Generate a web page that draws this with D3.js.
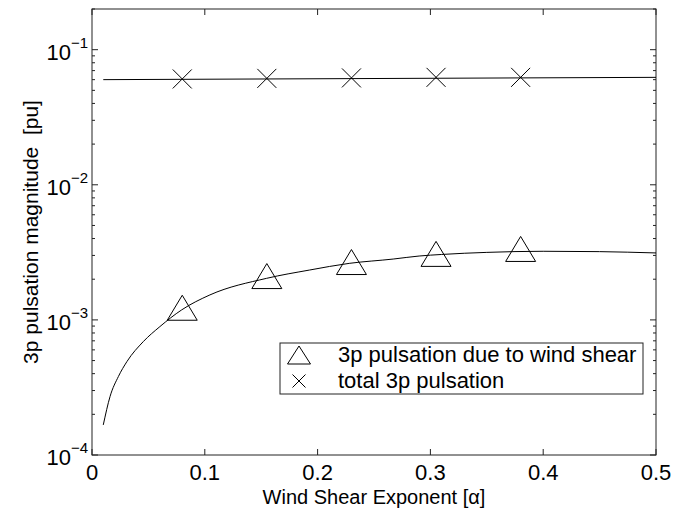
<!DOCTYPE html>
<html>
<head>
<meta charset="utf-8">
<script src="https://cdn.jsdelivr.net/npm/d3@7"></script>
<style>
  body { margin: 0; background: #fff; }
  svg { display: block; font-family: "Liberation Sans", Arial, Helvetica, sans-serif; }
</style>
</head>
<body>
<svg id="chart" width="673" height="514"></svg>
<script>
// alpha values where markers sit
let markerAlpha = [0.08, 0.155, 0.23, 0.305, 0.38];
let shearMarkers = [1.23e-3, 2.11e-3, 2.68e-3, 3.08e-3, 3.35e-3];
let totalMarkers = [0.0607, 0.0613, 0.0618, 0.0624, 0.0624];

// continuous curves
let shearAlpha = [0.01, 0.016, 0.0234, 0.031, 0.0455, 0.0602, 0.0795, 0.1045, 0.1547, 0.193, 0.228, 0.267, 0.29, 0.31, 0.35, 0.40, 0.45, 0.5];
let shearCurve = [1.67e-4, 2.71e-4, 3.81e-4, 4.92e-4, 6.91e-4, 8.92e-4, 1.186e-3, 1.53e-3, 2.03e-3, 2.34e-3, 2.62e-3, 2.82e-3, 2.97e-3, 3.05e-3, 3.16e-3, 3.22e-3, 3.2e-3, 3.13e-3];
let totalAlpha = [0.01, 0.5];
let totalCurve = [0.0600, 0.0624];

let xTicks = [0, 0.1, 0.2, 0.3, 0.4, 0.5];
let yTicks = [1e-4, 1e-3, 1e-2, 1e-1];
let legendLabels = ["3p pulsation due to wind shear", "total 3p pulsation"];

const svg = d3.select('#chart');
const margin = { left: 92, right: 17, top: 9, bottom: 59 };
const width = 673 - margin.left - margin.right;
const height = 514 - margin.top - margin.bottom;
const g = svg.append('g').attr('transform', `translate(${margin.left},${margin.top})`);

const x = d3.scaleLinear().domain([0, 0.5]).range([0, width]);
const y = d3.scaleLog().domain([1e-4, 0.2]).range([height, 0]);

const axisColor = '#222';

// minor log ticks
let minor = [];
for (let e = -4; e <= -1; e++) {
    for (let m = 1; m <= 9; m++) {
        let v = m * Math.pow(10, e);
        if (v >= 1e-4 && v <= 0.2) minor.push({ v: v, major: m === 1 });
    }
}

// y ticks left and right, inward
g.selectAll('.yt').data(minor).enter().append('line')
    .attr('x1', 0).attr('x2', d => d.major ? 6 : 3)
    .attr('y1', d => y(d.v)).attr('y2', d => y(d.v))
    .attr('stroke', axisColor);
g.selectAll('.yt2').data(minor).enter().append('line')
    .attr('x1', width).attr('x2', d => width - (d.major ? 6 : 3))
    .attr('y1', d => y(d.v)).attr('y2', d => y(d.v))
    .attr('stroke', axisColor);

// x ticks bottom and top, inward
g.selectAll('.xt').data(xTicks).enter().append('line')
    .attr('x1', d => x(d)).attr('x2', d => x(d))
    .attr('y1', height).attr('y2', height - 6)
    .attr('stroke', axisColor);
g.selectAll('.xt2').data(xTicks).enter().append('line')
    .attr('x1', d => x(d)).attr('x2', d => x(d))
    .attr('y1', 0).attr('y2', 6)
    .attr('stroke', axisColor);

// box
g.append('rect').attr('width', width).attr('height', height)
    .attr('fill', 'none').attr('stroke', axisColor).attr('stroke-width', 1);

// x tick labels
g.selectAll('.xl').data(xTicks).enter().append('text')
    .attr('x', d => x(d)).attr('y', height + 25)
    .attr('text-anchor', 'middle').attr('font-size', 22)
    .text(d => d3.format('')(d));

// y tick labels 10^n
let yl = g.selectAll('.yl').data(yTicks).enter().append('text')
    .attr('x', -4).attr('y', d => y(d) + 10)
    .attr('text-anchor', 'end').attr('font-size', 22);
yl.append('tspan').text('10');
yl.append('tspan').attr('dy', -12).attr('font-size', 15)
    .text(d => '\u2212' + (-Math.round(Math.log10(d))));

// axis titles
svg.append('text').attr('x', margin.left + width / 2).attr('y', 504)
    .attr('text-anchor', 'middle').attr('font-size', 20)
    .text('Wind Shear Exponent [\u03b1]');
svg.append('text')
    .attr('transform', `translate(38,${margin.top + height / 2}) rotate(-90)`)
    .attr('text-anchor', 'middle').attr('font-size', 21)
    .attr('xml:space', 'preserve').style('white-space', 'pre')
    .text('3p pulsation magnitude  [pu]');

// lines
const line = d3.line().x(d => x(d[0])).y(d => y(d[1])).curve(d3.curveMonotoneX);
g.append('path').datum(d3.zip(shearAlpha, shearCurve))
    .attr('d', line).attr('fill', 'none').attr('stroke', '#000').attr('stroke-width', 1);
g.append('path').datum(d3.zip(totalAlpha, totalCurve))
    .attr('d', line).attr('fill', 'none').attr('stroke', '#000').attr('stroke-width', 1);

// markers
function triPath(w, h) {
    return `M0,${-h / 2}L${w / 2},${h / 2}L${-w / 2},${h / 2}Z`;
}
function crossPath(s) {
    return `M${-s / 2},${-s / 2}L${s / 2},${s / 2}M${-s / 2},${s / 2}L${s / 2},${-s / 2}`;
}
g.selectAll('.tri').data(d3.zip(markerAlpha, shearMarkers)).enter().append('path')
    .attr('transform', d => `translate(${x(d[0])},${y(d[1])})`)
    .attr('d', triPath(30, 25)).attr('fill', 'none').attr('stroke', '#000');
g.selectAll('.cross').data(d3.zip(markerAlpha, totalMarkers)).enter().append('path')
    .attr('transform', d => `translate(${x(d[0])},${y(d[1])})`)
    .attr('d', crossPath(19)).attr('fill', 'none').attr('stroke', '#000');

// legend
const lg = svg.append('g').attr('transform', 'translate(280,343)');
lg.append('rect').attr('width', 363).attr('height', 51)
    .attr('fill', '#fff').attr('stroke', axisColor);
lg.append('path').attr('transform', 'translate(19,12)')
    .attr('d', triPath(23, 18)).attr('fill', 'none').attr('stroke', '#000');
lg.append('path').attr('transform', 'translate(19,38)')
    .attr('d', crossPath(13)).attr('fill', 'none').attr('stroke', '#000');
lg.selectAll('.lt').data(legendLabels).enter().append('text')
    .attr('x', 58).attr('y', (d, i) => 19 + i * 26)
    .attr('font-size', 22).text(d => d);
</script>
</body>
</html>
